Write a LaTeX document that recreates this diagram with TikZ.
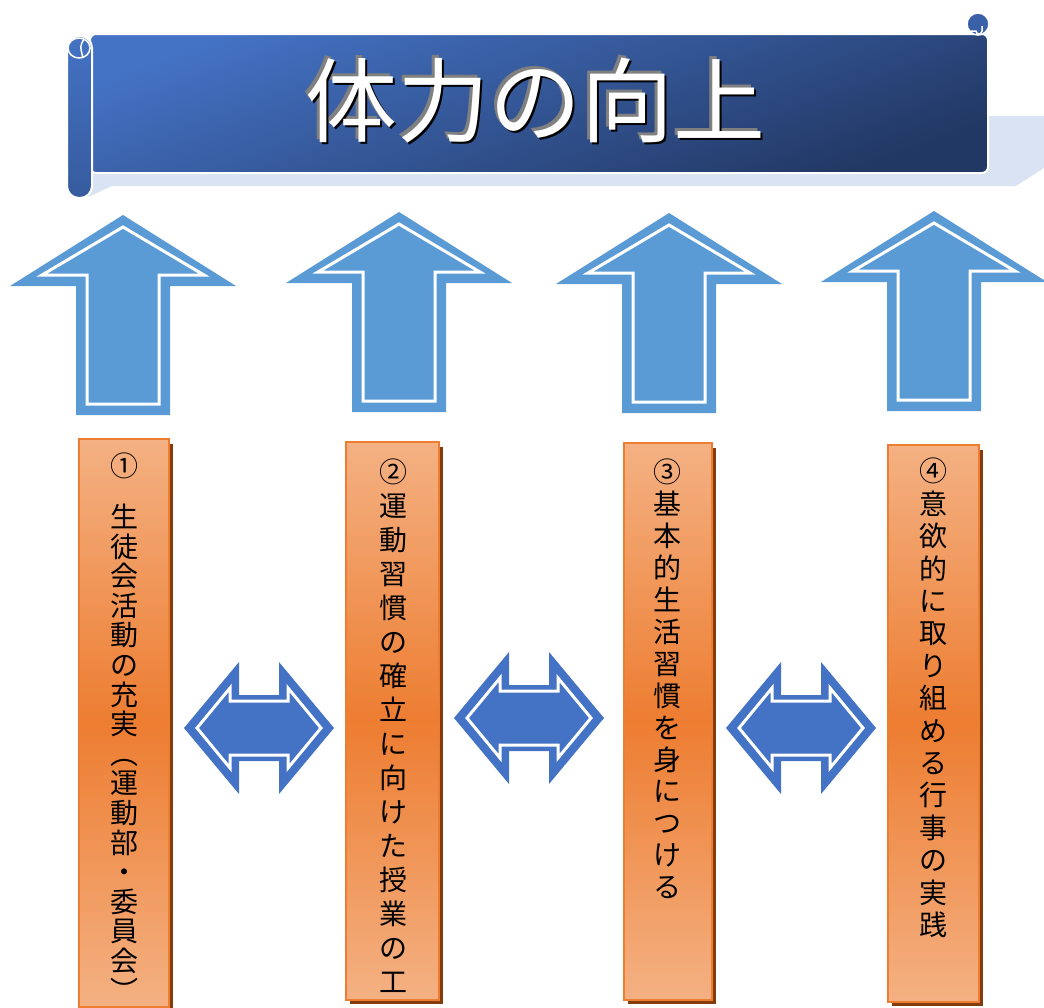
\documentclass[tikz,border=0pt]{standalone}
\usepackage{fontspec}
\usepackage{tikz}
\usetikzlibrary{calc}
\usetikzlibrary{positioning}
\setmainfont{Noto Sans CJK JP}
\definecolor{royalblue}{RGB}{68, 114, 196}
\definecolor{navyblue}{RGB}{34, 56, 100}
\definecolor{skyblue}{RGB}{91, 155, 213}
\definecolor{paleblue}{RGB}{218, 227, 243}
\definecolor{carrot}{RGB}{237, 125, 49}
\definecolor{peach}{RGB}{244, 177, 131}
\definecolor{rust}{RGB}{132, 60, 12}

\newcommand{\embossed}[1]{%
  \rlap{\kern-3pt\raisebox{3pt}{\color{gray}#1}}%
  \rlap{\kern2pt\raisebox{-2pt}{\color{black}#1}}%
  {\color{white}#1}}

\tikzset{
  upshape/.style={fill=skyblue},
  whiteline/.style={draw=white, line width=3pt, line join=miter},
  dblshape/.style={fill=royalblue},
  colbox/.style={draw=carrot, line width=2pt, top color=peach, bottom color=peach, middle color=carrot},
  colshadow/.style={fill=rust},
  coltext/.style={align=center, anchor=north, inner sep=0pt},
  ttltext/.style={font=\fontsize{92}{92}\selectfont, inner sep=0pt},
}

\begin{document}
\begin{tikzpicture}[x=1pt, y=-1pt]
            \useasboundingbox (0,0) rectangle (1044,1007);
            % Banner shadow
            \fill[paleblue] (90,172) -- (988,172) -- (988,116) -- (1044,116) -- (1044,168)
                 -- (1016,186) -- (112,186) -- (88,197) -- cycle;
            % Banner face
            \draw[white, line width=2pt, rounded corners=6pt, top color=royalblue, bottom color=navyblue,
                 shading angle=20] (90,34) rectangle (988,173);
            % Right curl
            \filldraw[fill=royalblue!70!navyblue, draw=white, line width=1.5pt] (978,24) circle (11);
            \draw[white, line width=1.5pt] (970,31) -- (976,31) arc (180:0:3) -- (982,26);
            % Left roll
            \draw[white, line width=2pt, rounded corners=12pt, top color=royalblue, bottom color=royalblue!60!navyblue]
                 (67,36) rectangle (92,198);
            \draw[white, line width=1.5pt] (79,48) ellipse (11 and 10);
            \draw[white, line width=1.5pt] (84,39) .. controls (80,46) .. (83,58);
            % Title
            \node[ttltext] (ttl) at (535,100) {\embossed{体力の向上}};
            % Arrows pointing up
            \foreach \ax/\ay in {123/215, 399/212, 669/213, 934/211}{
              \begin{scope}[shift={(\ax,\ay)}]
                \fill[upshape] (0,0) -- (113,71) -- (47,71) -- (47,200) -- (-47,200) -- (-47,71) -- (-113,71) -- cycle;
                \draw[whiteline] (0,12) -- (81,60) -- (36,60) -- (36,189) -- (-36,189) -- (-36,60) -- (-81,60) -- cycle;
              \end{scope}
            }
            % Arrows between the columns
            \foreach \dx/\dy in {259/728, 529/718, 801/728}{
              \begin{scope}[shift={(\dx,\dy)}]
                \fill[dblshape] (-75,0) -- (-20,-66) -- (-20,-33) -- (20,-33) -- (20,-66) -- (75,0)
                     -- (20,66) -- (20,33) -- (-20,33) -- (-20,66) -- cycle;
                \draw[whiteline] (-62,0) -- (-29,-40) -- (-29,-27) -- (29,-27) -- (29,-40) -- (62,0)
                     -- (29,40) -- (29,27) -- (-29,27) -- (-29,40) -- cycle;
              \end{scope}
            }
            % Columns
            \foreach \l/\t/\r/\b in {79/439/169/1007, 346/442/439/1000, 624/443/712/1000, 888/445/979/1002}{
              \fill[colshadow] (\l+4,\t+5) rectangle (\r+4,\b+4);
              \draw[colbox] (\l,\t) rectangle (\r,\b);
            }
            % Column texts
            \node[coltext, font=\fontsize{28}{29.6}\selectfont] (item1) at (124,453)
                 {①\\[21pt]生\\徒\\会\\活\\動\\の\\充\\実\\︵\\運\\動\\部\\・\\委\\員\\会\\︶};
            \node[coltext, font=\fontsize{28}{34}\selectfont] (item2) at (393,459)
                 {②\\運\\動\\習\\慣\\の\\確\\立\\に\\向\\け\\た\\授\\業\\の\\工};
            \node[coltext, font=\fontsize{28}{31.9}\selectfont] (item3) at (667,459)
                 {③\\基\\本\\的\\生\\活\\習\\慣\\を\\身\\に\\つ\\け\\る};
            \node[coltext, font=\fontsize{28}{32.4}\selectfont] (item4) at (933,458)
                 {④\\意\\欲\\的\\に\\取\\り\\組\\め\\る\\行\\事\\の\\実\\践};
        \end{tikzpicture}
\end{document}
